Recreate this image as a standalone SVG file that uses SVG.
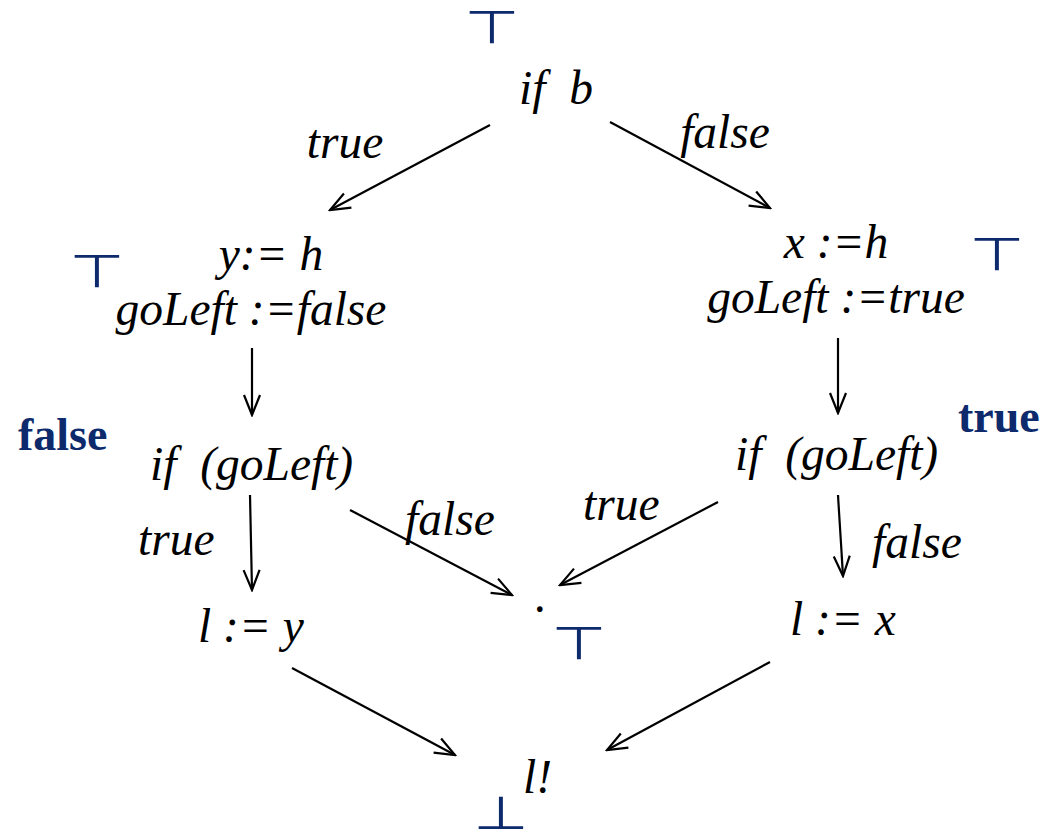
<svg xmlns="http://www.w3.org/2000/svg" width="1052" height="831" viewBox="0 0 1052 831">
<defs>
<marker id="ah" markerWidth="24" markerHeight="24" refX="22" refY="12" orient="auto" markerUnits="userSpaceOnUse">
<polyline points="2,4 22,12 2,20" fill="none" stroke="#000" stroke-width="2.2"/>
</marker>
<style>
.t{font-family:"Liberation Serif","Times New Roman",serif;font-style:italic;font-size:47.5px;fill:#000}
.b{font-family:"Liberation Serif","Times New Roman",serif;font-weight:bold;font-size:46px;fill:#0d2a6c}
.s{font-family:"DejaVu Sans",sans-serif;font-size:46px;fill:#0d2a6c}
.e{fill:none;stroke:#000;stroke-width:2.2;marker-end:url(#ah)}
</style>
</defs>
<rect width="1052" height="831" fill="#fff"/>
<g id="connectors">
<line class="e" x1="490" y1="125" x2="330" y2="210"/>
<line class="e" x1="610" y1="122" x2="770" y2="208"/>
<line class="e" x1="252" y1="348" x2="252" y2="415"/>
<line class="e" x1="838" y1="338" x2="838" y2="413"/>
<line class="e" x1="250" y1="495" x2="252" y2="590"/>
<line class="e" x1="350" y1="510" x2="512" y2="595"/>
<line class="e" x1="718" y1="502" x2="560" y2="585"/>
<line class="e" x1="838" y1="495" x2="843" y2="576"/>
<line class="e" x1="292" y1="668" x2="455" y2="755"/>
<line class="e" x1="770" y1="662" x2="607" y2="750"/>
</g>
<g id="n-ifb"><text class="t" x="556" y="104" text-anchor="middle" xml:space="preserve">if  b</text><text class="s" transform="translate(492,43) scale(1.38,1)" text-anchor="middle">⊤</text></g>
<g id="l-true1"><text class="t" x="345" y="158" text-anchor="middle">true</text></g>
<g id="l-false1"><text class="t" x="725" y="148" text-anchor="middle">false</text></g>
<g id="n-left-assign"><text class="t" x="271" y="270" text-anchor="middle">y:= h</text><text class="t" x="251" y="325" text-anchor="middle">goLeft :=false</text><text class="s" transform="translate(97,287) scale(1.38,1)" text-anchor="middle">⊤</text></g>
<g id="n-right-assign"><text class="t" x="836" y="258" text-anchor="middle">x :=h</text><text class="t" x="836" y="313" text-anchor="middle">goLeft :=true</text><text class="s" transform="translate(997,270) scale(1.38,1)" text-anchor="middle">⊤</text></g>
<g id="n-left-if"><text class="b" x="18" y="450">false</text><text class="t" x="150" y="480" xml:space="preserve">if  (goLeft)</text></g>
<g id="n-right-if"><text class="b" x="958" y="432">true</text><text class="t" x="735" y="470" xml:space="preserve">if  (goLeft)</text></g>
<g id="l-true2"><text class="t" x="138" y="555">true</text></g>
<g id="l-false2"><text class="t" x="405" y="535">false</text></g>
<g id="l-true3"><text class="t" x="583" y="520">true</text></g>
<g id="l-false3"><text class="t" x="872" y="558">false</text></g>
<g id="n-ly"><text class="t" x="198" y="642">l := y</text></g>
<g id="n-dot"><text class="t" x="541" y="612" text-anchor="middle">.</text><text class="s" transform="translate(579,659) scale(1.38,1)" text-anchor="middle">⊤</text></g>
<g id="n-lx"><text class="t" x="790" y="635">l := x</text></g>
<g id="n-out"><text class="t" x="523" y="793">l!</text><text class="s" transform="translate(501,829) scale(1.38,1)" text-anchor="middle">⊥</text></g>
</svg>
